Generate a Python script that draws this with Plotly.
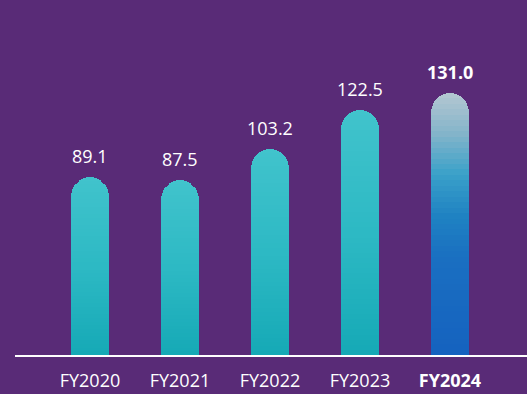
import plotly.graph_objects as go

# Revenue by fiscal year
years = ["FY2020", "FY2021", "FY2022", "FY2023", "FY2024"]
values = [89.1, 87.5, 103.2, 122.5, 131.0]
tick_labels = ["FY2020", "FY2021", "FY2022", "FY2023", "<b>FY2024</b>"]
value_labels = ["89.1", "87.5", "103.2", "122.5", "<b>131.0</b>"]

BG = "#592b77"
N_SEG = 48  # slices per bar used to fake a vertical gradient


def hex_to_rgb(h):
    h = h.lstrip("#")
    return tuple(int(h[i:i + 2], 16) for i in (0, 2, 4))


def ramp(stops, t):
    """Interpolate a colour from (position, hex) stops, position 0 = bottom."""
    for (p0, c0), (p1, c1) in zip(stops, stops[1:]):
        if p0 <= t <= p1:
            f = 0 if p1 == p0 else (t - p0) / (p1 - p0)
            a, b = hex_to_rgb(c0), hex_to_rgb(c1)
            r = [round(a[k] + (b[k] - a[k]) * f) for k in range(3)]
            return "rgb(%d,%d,%d)" % tuple(r)
    return stops[-1][1]


teal = [(0.0, "#16a9b6"), (0.5, "#2db9c4"), (1.0, "#41c3cc")]
highlight = [(0.0, "#1562bf"), (0.37, "#1a6fc1"), (0.53, "#1f82c2"),
             (0.69, "#3aa1c9"), (0.85, "#86b5ca"), (1.0, "#b4c7d2")]
ramps = [teal, teal, teal, teal, highlight]

fig = go.Figure()

for i in range(N_SEG):
    t = (i + 0.5) / N_SEG
    fig.add_trace(go.Bar(
        x=years,
        y=[v / N_SEG for v in values],
        width=0.42,
        marker=dict(color=[ramp(r, t) for r in ramps], line=dict(width=0)),
        hoverinfo="skip",
        showlegend=False,
    ))

# value labels sitting above each bar
for yr, v, lab in zip(years, values, value_labels):
    fig.add_annotation(
        x=yr, y=v, text=lab, showarrow=False,
        yanchor="bottom", yshift=7,
        font=dict(color="white", size=18, family="Open Sans"),
    )

fig.update_layout(
    width=527,
    height=394,
    margin=dict(l=15, r=0, t=0, b=39),
    paper_bgcolor=BG,
    plot_bgcolor=BG,
    barmode="stack",
    bargap=0,
    barcornerradius=19,
    font=dict(family="Open Sans", color="white"),
    xaxis=dict(
        type="category",
        range=[-0.833, 4.856],
        tickvals=years,
        ticktext=tick_labels,
        tickfont=dict(size=18, color="white", family="Open Sans"),
        showline=True,
        linecolor="white",
        linewidth=2,
        showgrid=False,
        zeroline=False,
        ticks="outside",
        ticklen=8,
        tickcolor="rgba(0,0,0,0)",
        fixedrange=True,
    ),
    yaxis=dict(
        range=[0, 177.5],
        visible=False,
        showgrid=False,
        zeroline=False,
        fixedrange=True,
    ),
)

fig.write_html("out.html")
